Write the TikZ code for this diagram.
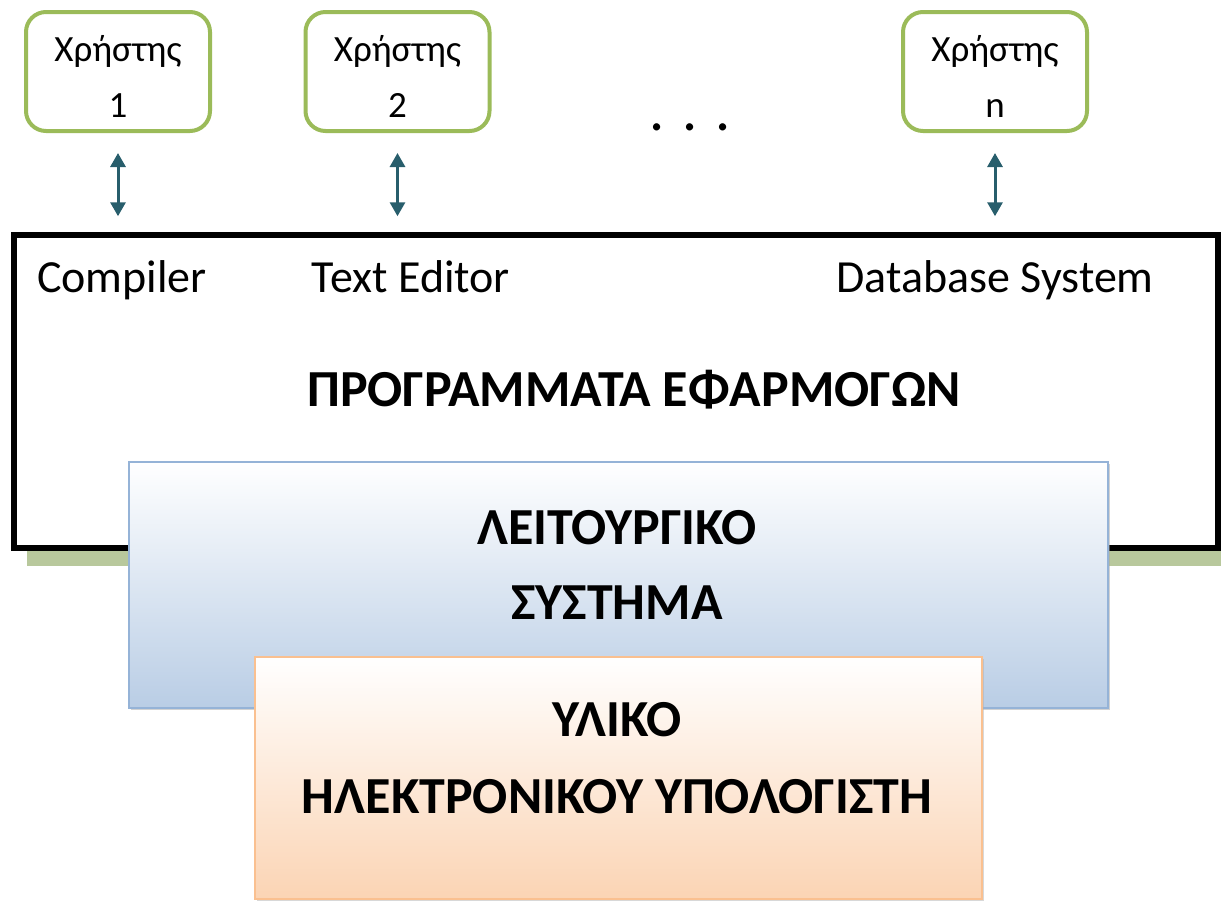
\documentclass[tikz,border=0pt]{standalone}
\usepackage{fontspec}
\setmainfont{Carlito}
\usetikzlibrary{arrows.meta,shadows}
\definecolor{usergreen}{HTML}{9BBB59}
\definecolor{arrteal}{HTML}{285E6C}
\definecolor{shgreen}{HTML}{B8C89C}
\definecolor{osblue}{HTML}{B9CDE5}
\definecolor{osborder}{HTML}{95B3D7}
\definecolor{hwpeach}{HTML}{FBD4B4}
\definecolor{hwborder}{HTML}{FAC090}
\tikzset{
  userbox/.style={draw=usergreen, line width=4pt, rounded corners=20pt, fill=white,
    minimum width=184pt, minimum height=119pt, inner sep=0pt},
  usertext/.style={align=center, font=\fontsize{37}{56}\selectfont, inner sep=0pt},
  arr/.style={draw=arrteal, line width=3pt, {Triangle[width=15pt,length=14pt]}-{Triangle[width=15pt,length=14pt]}},
  applabel/.style={font=\fontsize{46}{55}\selectfont, inner sep=0pt, anchor=base},
  bigtitle/.style={font=\bfseries\fontsize{52}{75}\selectfont, inner sep=0pt, align=center},
}
\begin{document}
\begin{tikzpicture}[x=1pt,y=-1pt]
\useasboundingbox (0,0) rectangle (1221,900);
% users
\node[userbox] (u1) at (118,71.5) {};
\node[userbox] (u2) at (397.5,71.5) {};
\node[userbox] (un) at (995,71.5) {};
\node[usertext] (t1) at ([yshift=-5pt]u1.center) {Χρήστης\\1};
\node[usertext] (t2) at ([yshift=-5pt]u2.center) {Χρήστης\\2};
\node[usertext] (tn) at ([yshift=-5pt]un.center) {Χρήστης\\n};
\node[font=\fontsize{60}{60}\selectfont, inner sep=0pt, anchor=base] (dots) at (690,130) {. . .};
% main application box with green shadow
\fill[shgreen] (27,250) rectangle (1230,566);
\node[draw=black, line width=5.5pt, fill=white, minimum width=1204pt, minimum height=313pt, inner sep=0pt] (apps) at (616,391.5) {};
\node[applabel] (comp) at (122,292) {Compiler};
\node[applabel] (ted) at (411,292) {Text Editor};
\node[applabel] (dbs) at (995,292) {Database System};
\node[bigtitle] (progs) at (634,390) {ΠΡΟΓΡΑΜΜΑΤΑ ΕΦΑΡΜΟΓΩΝ};
% arrows
\draw[arr] ([yshift=-20pt]u1.south) -- ([yshift=16pt]u1.south |- apps.north);
\draw[arr] ([yshift=-20pt]u2.south) -- ([yshift=16pt]u2.south |- apps.north);
\draw[arr] ([yshift=-20pt]un.south) -- ([yshift=16pt]un.south |- apps.north);
% operating system
\node[draw=osborder, line width=1.5pt, top color=white, bottom color=osblue,
  minimum width=979pt, minimum height=246pt, inner sep=0pt,
  drop shadow={shadow xshift=2pt, shadow yshift=-2pt, fill=black!35}] (os) at (618.5,585) {};
\node[bigtitle] (ostext) at (617,564.5) {ΛΕΙΤΟΥΡΓΙΚΟ\\ΣΥΣΤΗΜΑ};
% hardware
\node[draw=hwborder, line width=1.5pt, top color=white, bottom color=hwpeach,
  minimum width=727pt, minimum height=242pt, inner sep=0pt,
  drop shadow={shadow xshift=2pt, shadow yshift=-2pt, fill=black!30}] (hw) at (618.5,778) {};
\node[bigtitle, font=\bfseries\fontsize{52}{77}\selectfont] (hwtext) at (617,758.5) {ΥΛΙΚΟ\\ΗΛΕΚΤΡΟΝΙΚΟΥ ΥΠΟΛΟΓΙΣΤΗ};
\end{tikzpicture}
\end{document}
